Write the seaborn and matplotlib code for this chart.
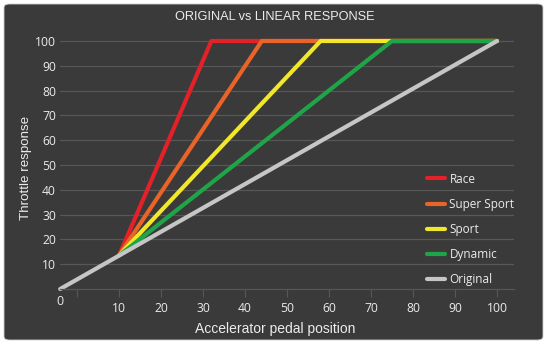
import matplotlib
matplotlib.use("Agg")
import matplotlib.pyplot as plt
from matplotlib.patches import FancyBboxPatch
import seaborn as sns
import pandas as pd

# ---- data ----
modes = ["Race", "Super Sport", "Sport", "Dynamic", "Original"]
race_x = [10, 32, 100]
race_y = [13.5, 100, 100]
super_x = [10, 44, 100]
super_y = [13.5, 100, 100]
sport_x = [10, 58, 100]
sport_y = [13.5, 100, 100]
dynamic_x = [10, 75, 100]
dynamic_y = [13.5, 100, 100]
original_x = [-4, 100]
original_y = [0, 100]
x_ticks = [0, 10, 20, 30, 40, 50, 60, 70, 80, 90, 100]
x_tick_labels = ["", "10", "20", "30", "40", "50", "60", "70", "80", "90", "100"]
y_ticks = [10, 20, 30, 40, 50, 60, 70, 80, 90, 100]
colors = {"Race": "#e42128", "Super Sport": "#ea6428", "Sport": "#f2e82a",
          "Dynamic": "#1fa548", "Original": "#c6c6c6"}

frames = []
for name, xs, ys in [("Race", race_x, race_y), ("Super Sport", super_x, super_y),
                     ("Sport", sport_x, sport_y), ("Dynamic", dynamic_x, dynamic_y),
                     ("Original", original_x, original_y)]:
    frames.append(pd.DataFrame({"x": xs, "y": ys, "mode": name}))
df = pd.concat(frames, ignore_index=True)

BG = "#3a3a3a"
GRID = "#575757"
TXT = "#ececec"

sns.set_theme(style="dark")
plt.rcParams["font.family"] = ["Liberation Sans", "DejaVu Sans"]

fig = plt.figure(figsize=(5.5, 3.46), dpi=100)
fig.patch.set_facecolor("white")
bg = FancyBboxPatch((4 / 550, 6 / 346), 539 / 550, 336 / 346,
                    boxstyle="round,pad=0,rounding_size=0.01",
                    transform=fig.transFigure, facecolor=BG, edgecolor="#d0d0d0",
                    linewidth=0.6, zorder=-10)
fig.patches.append(bg)

left = 60.2 / 550
right = 513.8 / 550
bottom = (346 - 289) / 346
top = (346 - 38.5) / 346
ax = fig.add_axes([left, bottom, right - left, top - bottom])
ax.set_facecolor("none")

sns.lineplot(data=df, x="x", y="y", hue="mode", hue_order=modes, palette=colors,
             estimator=None, sort=False, units="mode", linewidth=3, ax=ax,
             legend=True)
for line in ax.get_lines():
    line.set_clip_on(False)
    line.set_solid_capstyle("round")

ax.set_xlim(-4, 104)
ax.set_ylim(0, 101)
ax.set_xticks(x_ticks)
ax.set_xticklabels(x_tick_labels, family=["Open Sans", "DejaVu Sans"], fontsize=8.7, color=TXT)
ax.set_yticks(y_ticks)
ax.set_yticklabels([str(v) for v in y_ticks], family=["Open Sans", "DejaVu Sans"], fontsize=8.7, color=TXT)
ax.tick_params(axis="x", which="both", bottom=True, length=5.5, width=0.8, color=GRID, pad=3.5)
ax.tick_params(axis="y", which="both", left=False, length=0, pad=3)
ax.grid(True, axis="y", color=GRID, linewidth=0.9)
ax.grid(False, axis="x")
for s in ["top", "right", "left"]:
    ax.spines[s].set_visible(False)
ax.spines["bottom"].set_color(GRID)
ax.spines["bottom"].set_linewidth(0.9)
ax.set_axisbelow(True)

ax.text(-4, -5, "0", ha="center", va="center", color=TXT, fontsize=9,
        family=["Open Sans", "DejaVu Sans"], clip_on=False)

ax.set_xlabel("Accelerator pedal position", color=TXT, fontsize=10)
ax.xaxis.label.set_va("baseline")
ax.xaxis.set_label_coords((275.5 - 60.2) / 453.6, (289 - 333) / 250.5)
ax.set_ylabel("Throttle response", color=TXT, fontsize=9.6)
ax.yaxis.label.set_va("center")
ax.yaxis.set_label_coords((26 - 60.2) / 453.6, (289 - 168) / 250.5)
fig.text(0.5, 1 - 17 / 346, "ORIGINAL vs LINEAR RESPONSE", ha="center", va="center",
         color=TXT, fontsize=9.2)

handles, labels = ax.get_legend_handles_labels()
leg = ax.legend(handles, labels, loc="upper left", bbox_to_anchor=(427 / 550, 1 - 172.5 / 346),
                bbox_transform=fig.transFigure, frameon=False, borderpad=0, borderaxespad=0,
                handlelength=1.55, handletextpad=0.35, labelspacing=1.03,
                prop={"family": ["Open Sans", "DejaVu Sans"], "size": 8.5})
for t in leg.get_texts():
    t.set_color(TXT)
for h in leg.legend_handles:
    h.set_linewidth(3)
    h.set_solid_capstyle("round")

fig.savefig("out.png", dpi=100, facecolor="white")
